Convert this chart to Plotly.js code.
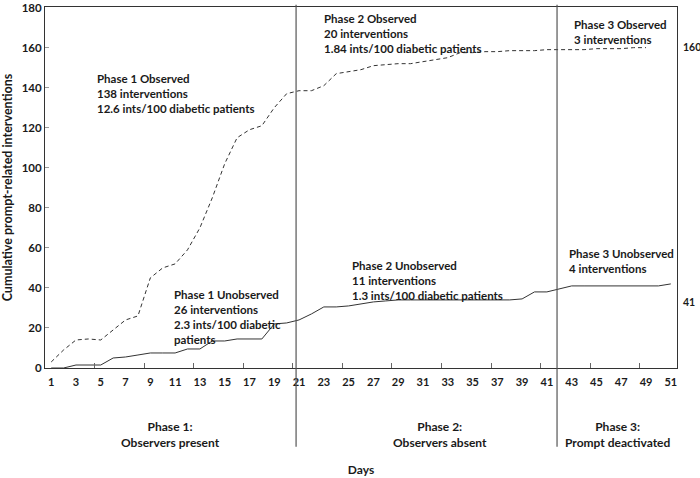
<!DOCTYPE html>
<html>
<head>
<meta charset="utf-8">
<script src="https://cdn.plot.ly/plotly-3.0.1.min.js"></script>
<style>html,body{margin:0;padding:0;background:#fff;}#chart{width:700px;height:478px;}</style>
</head>
<body>
<div id="chart"></div>
<script>
// Days
const daysObserved = [];
for (let d = 1; d <= 49; d++) daysObserved.push(d);
const daysUnobserved = [];
for (let d = 1; d <= 51; d++) daysUnobserved.push(d);

// Cumulative prompt-related interventions
const observed = [3, 9, 14, 14.5, 14, 19, 24, 26, 45, 50,
  52, 59, 70, 85, 102, 115, 119, 121, 130, 137,
  138.5, 138.5, 141, 147, 148, 149, 151, 151.5, 152, 152,
  153, 154, 155, 157.5, 157.5, 158, 158, 158.5, 158.5, 158.5,
  159, 159, 159, 159, 159.5, 159.5, 159.5, 160, 160];
const unobserved = [0, 0, 1.5, 1.5, 1.5, 5, 5.5, 6.5, 7.5, 7.5,
  7.5, 9.5, 9.5, 13.5, 13.5, 14.5, 14.5, 14.5, 22, 22.5,
  24, 27, 30.5, 30.5, 31, 32, 33, 33.5, 34, 34,
  34, 34, 34, 34, 34, 34, 34, 34, 34.5, 38,
  38, 39.5, 41, 41, 41, 41, 41, 41, 41, 41, 42];

const tickDays = [1,3,5,7,9,11,13,15,17,19,21,23,25,27,29,31,33,35,37,39,41,43,45,47,49,51];
const tickLabels = tickDays.map(String);
const minorTickDays = [4.5,8.5,12.5,16.5,20.5,24.5,28.5,32.5,36.5,40.5,44.5,48.5];
const yTicks = [0,20,40,60,80,100,120,140,160,180];

const phaseBoundaries = [20.76, 41.82];

const phaseNotes = [
  {x: 4.54, y: 149, text: "Phase 1 Observed<br>138 interventions<br>12.6 ints/100 diabetic patients"},
  {x: 10.75, y: 41, text: "Phase 1 Unobserved<br>26 interventions<br>2.3 ints/100 diabetic<br>patients"},
  {x: 22.86, y: 179, text: "Phase 2 Observed<br>20 interventions<br>1.84 ints/100 diabetic patients"},
  {x: 25.1, y: 55.2, text: "Phase 2 Unobserved<br>11 interventions<br>1.3 ints/100 diabetic patients"},
  {x: 43.0, y: 175.8, text: "Phase 3 Observed<br>3 interventions"},
  {x: 42.6, y: 61.5, text: "Phase 3 Unobserved<br>4 interventions"}
];
const phaseNames = [
  {x: 10.59, text: "Phase 1:<br>Observers present"},
  {x: 32.4, text: "Phase 2:<br>Observers absent"},
  {x: 46.7, text: "Phase 3:<br>Prompt deactivated"}
];
const endLabels = [{text: "160", py: 47}, {text: "41", py: 302}];

const FONT = "Lato, 'Open Sans', sans-serif";
const ink = "#1a1a1a";
const PLOT_TOP = 7, PLOT_BOTTOM = 368.3;

const traces = [
  {x: daysObserved, y: observed, mode: "lines", type: "scatter",
   line: {color: "#333", width: 1, dash: "4px,3px"}, hoverinfo: "skip"},
  {x: daysUnobserved, y: unobserved, mode: "lines", type: "scatter",
   line: {color: "#333", width: 1}, hoverinfo: "skip"},
  {x: [1], y: [0], xaxis: "x2", mode: "markers", marker: {opacity: 0}, hoverinfo: "skip"}
];

const annotations = [];
phaseNotes.forEach(n => annotations.push({
  x: n.x, y: n.y, xref: "x", yref: "y", text: "<b>" + n.text + "</b>",
  showarrow: false, xanchor: "left", yanchor: "top", align: "left",
  font: {family: FONT, size: 11.5, color: ink}
}));
phaseNames.forEach(n => annotations.push({
  x: n.x, y: -0.183, xref: "x", yref: "paper", text: "<b>" + n.text + "</b>",
  showarrow: false, xanchor: "center", yanchor: "middle", align: "center",
  font: {family: FONT, size: 12, color: ink}
}));
endLabels.forEach(n => annotations.push({
  x: 682, y: n.py, xref: "paper", yref: "paper", text: "<b>" + n.text + "</b>",
  showarrow: false, xanchor: "left", yanchor: "middle", borderpad: 0,
  font: {family: FONT, size: 10.5, color: ink}
}));
// convert pixel positions for end labels to paper coords
annotations.forEach(a => {
  if (a.xref === "paper" && a.x > 2) {
    a.x = (a.x - 45) / 632;
    a.y = (PLOT_BOTTOM - a.y) / (PLOT_BOTTOM - PLOT_TOP);
  }
});

const shapes = phaseBoundaries.map(b => ({
  type: "line", xref: "x", yref: "paper", x0: b, x1: b, y0: -0.218, y1: 1.006,
  line: {color: "#555", width: 1.2}
}));

const layout = {
  width: 700, height: 478,
  margin: {l: 45, r: 23, t: PLOT_TOP, b: 110},
  paper_bgcolor: "#fff", plot_bgcolor: "#fff",
  showlegend: false,
  font: {family: FONT, color: ink},
  xaxis: {
    range: [0.5, 51.5], tickmode: "array", tickvals: tickDays, ticktext: tickLabels,
    ticks: "", showgrid: false, zeroline: false, ticklabelstandoff: 4,
    showline: true, mirror: true, linecolor: "#333", linewidth: 1,
    tickfont: {family: FONT, size: 11, color: ink, weight: "bold"},
    title: {text: "<b>Days</b>", font: {family: FONT, size: 12, color: ink}, standoff: 78}
  },
  xaxis2: {
    range: [0.5, 51.5], overlaying: "x", anchor: "y", side: "bottom",
    tickmode: "array", tickvals: minorTickDays, ticks: "inside", ticklen: 5,
    tickcolor: "#666", showticklabels: false, showgrid: false, zeroline: false, showline: false
  },
  yaxis: {
    range: [0, 180.3], tickmode: "array", tickvals: yTicks,
    ticks: "inside", ticklen: 4, tickcolor: "#999", ticklabeloverflow: "allow",
    showgrid: false, zeroline: false,
    showline: true, mirror: true, linecolor: "#333", linewidth: 1,
    tickfont: {family: FONT, size: 11.5, color: ink, weight: "bold"},
    title: {text: "<b>Cumulative prompt-related interventions</b>", font: {family: FONT, size: 12.5, color: ink}, standoff: 6}
  },
  shapes: shapes,
  annotations: annotations
};

Plotly.newPlot("chart", traces, layout, {staticPlot: true, displayModeBar: false});
</script>
</body>
</html>
